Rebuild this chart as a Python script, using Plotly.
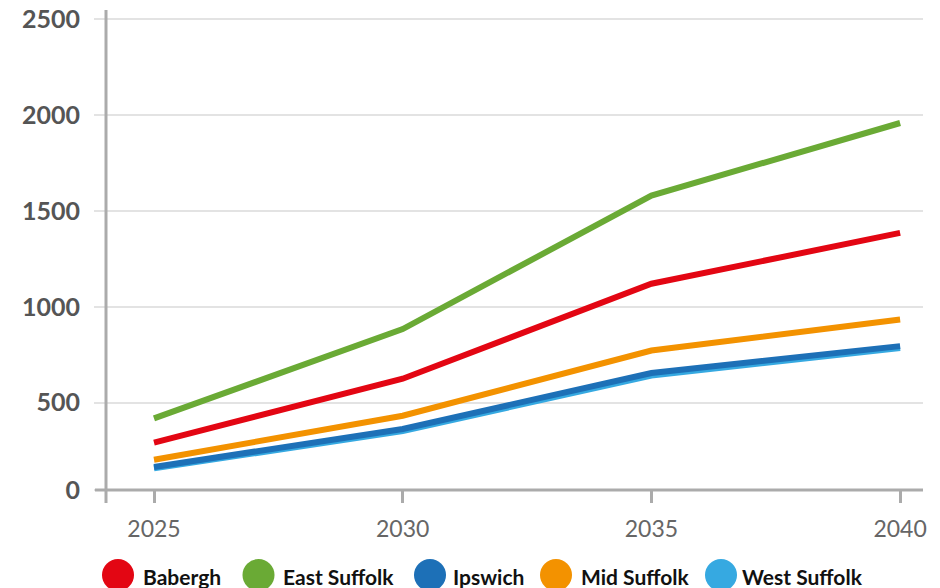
import plotly.graph_objects as go

years = [2025, 2030, 2035, 2040]
series_names = ["Babergh", "East Suffolk", "Ipswich", "Mid Suffolk", "West Suffolk"]
babergh = [292, 625, 1120, 1385]
east_suffolk = [418, 884, 1580, 1958]
ipswich = [165, 363, 655, 795]
mid_suffolk = [203, 432, 772, 934]
west_suffolk = [158, 352, 642, 785]
colors = ["#e30613", "#6aaa35", "#1d70b7", "#f39200", "#36a9e1"]
y_tick_vals = [46, 500, 1000, 1500, 2000, 2500]
y_tick_text = ["0", "500", "1000", "1500", "2000", "2500"]

values = [babergh, east_suffolk, ipswich, mid_suffolk, west_suffolk]

# plot area in pixels
L, R, T, B = 106, 923, 10, 490
W, H = 940, 588
pw, ph = R - L, B - T

def px_x(p):
    return (p - L) / pw

def px_y(p):
    return (B - p) / ph

fig = go.Figure()
draw_order = [4, 0, 1, 2, 3]  # West Suffolk beneath Ipswich
for i in draw_order:
    fig.add_trace(go.Scatter(
        x=years, y=values[i], mode="lines", name=series_names[i],
        line=dict(color=colors[i], width=6),
        showlegend=False, hoverinfo="x+y+name",
    ))

shapes = []
# axis lines extending past each other
shapes.append(dict(type="line", xref="paper", yref="paper",
                   x0=px_x(95), x1=1, y0=0, y1=0,
                   line=dict(color="#ababab", width=3)))
shapes.append(dict(type="line", xref="paper", yref="paper",
                   x0=0, x1=0, y0=px_y(503), y1=1,
                   line=dict(color="#ababab", width=3)))

annotations = []
legend_circle_cx = [118, 258.5, 430, 556, 721]
legend_text_x = [141, 281, 451, 579, 740]
legend_cy = 575
r = 16
for i, name in enumerate(series_names):
    cx = legend_circle_cx[i]
    shapes.append(dict(type="circle", xref="paper", yref="paper",
                       x0=px_x(cx - r), x1=px_x(cx + r),
                       y0=px_y(legend_cy + r), y1=px_y(legend_cy - r),
                       fillcolor=colors[i], line=dict(width=0)))
    annotations.append(dict(xref="paper", yref="paper",
                            x=px_x(legend_text_x[i]), y=px_y(legend_cy + 1),
                            text=name, showarrow=False,
                            xanchor="left", yanchor="middle",
                            font=dict(family="Lato", size=21, color="#111111", weight="bold")))

fig.update_layout(
    width=W, height=H,
    margin=dict(l=L, r=W - R, t=T, b=H - B, autoexpand=False),
    paper_bgcolor="white", plot_bgcolor="white",
    shapes=shapes, annotations=annotations,
    showlegend=False,
    xaxis=dict(
        range=[2024.035, 2040.46], tickvals=years,
        ticks="outside", ticklen=12, tickwidth=3, tickcolor="#ababab",
        showgrid=False, zeroline=False, showline=False,
        tickfont=dict(family="Lato", size=23, color="#666666"),
        ticklabelstandoff=6,
    ),
    yaxis=dict(
        range=[45, 2547], tickvals=y_tick_vals, ticktext=y_tick_text,
        ticks="outside", ticklen=11, tickwidth=2, tickcolor="#e3e3e3",
        showgrid=True, gridcolor="#e3e3e3", gridwidth=2,
        zeroline=False, showline=False,
        tickfont=dict(family="Lato", size=25, color="#555555", weight="bold"),
        ticklabelstandoff=9,
    ),
)

fig.write_html("out.html")
